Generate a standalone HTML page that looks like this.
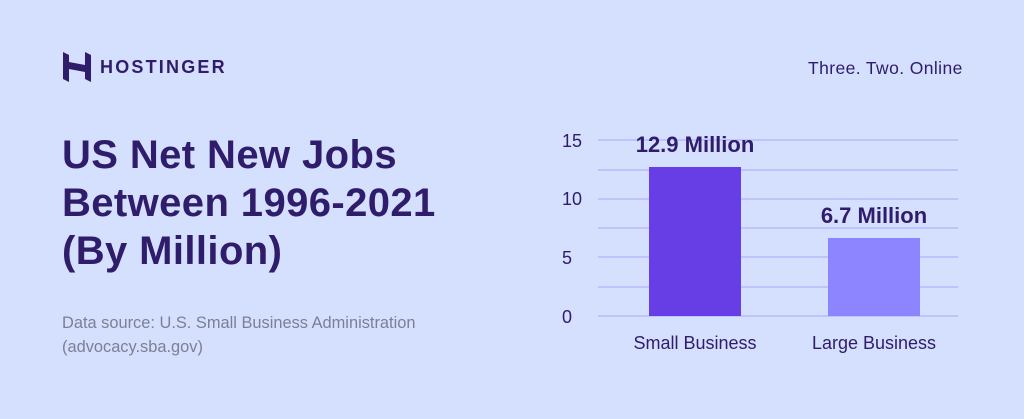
<!DOCTYPE html>
<html><head><style>
body{margin:0;width:1024px;height:419px;background:#d5dffe;font-family:"Liberation Sans",sans-serif;position:relative;overflow:hidden;color:#2f1c6a}
.a{position:absolute;white-space:nowrap}
</style></head><body>
<svg class="a" style="left:63px;top:52px" width="28" height="30" viewBox="0 0 28 30">
<path d="M0 0 L6 3 L6 11 L22 14 L22 20 L6 17 L6 30 L0 27Z M28 30 L22 27 L22 19 L6 16 L6 10 L22 13 L22 0 L28 3Z" fill="#2f1c6a"/>
</svg>
<div class="a" style="left:100px;top:57px;font-size:18px;font-weight:bold;letter-spacing:2.2px">HOSTINGER</div>
<div class="a" style="left:808px;top:58px;font-size:17.5px;letter-spacing:0.4px">Three. Two. Online</div>
<div class="a" style="left:62px;top:131px;font-size:40px;font-weight:bold;line-height:48px;letter-spacing:0.4px">US Net New Jobs<br>Between 1996-2021<br>(By Million)</div>
<div class="a" style="left:62px;top:311px;font-size:16.4px;color:#7d7f93;line-height:24px">Data source: U.S. Small Business Administration<br>(advocacy.sba.gov)</div>
<svg class="a" style="left:0;top:0" width="1024" height="419">
<g stroke="#a7a7f5" stroke-width="1">
<line x1="598" x2="958" y1="140" y2="140"/><line x1="598" x2="958" y1="170" y2="170"/>
<line x1="598" x2="958" y1="199" y2="199"/><line x1="598" x2="958" y1="228" y2="228"/>
<line x1="598" x2="958" y1="257" y2="257"/><line x1="598" x2="958" y1="287" y2="287"/>
<line x1="598" x2="958" y1="316" y2="316"/></g>
<rect x="649" y="167" width="92" height="149" fill="#673de6"/>
<rect x="828" y="238" width="92" height="78" fill="#8c85ff"/>
<g font-size="18" fill="#2f1c6a" font-family="Liberation Sans">
<text x="562" y="147">15</text><text x="562" y="205">10</text><text x="562" y="264">5</text><text x="562" y="323">0</text>
<text x="695" y="349" text-anchor="middle">Small Business</text><text x="874" y="349" text-anchor="middle">Large Business</text>
</g>
<g font-size="22" font-weight="bold" fill="#2f1c6a" font-family="Liberation Sans" text-anchor="middle">
<text x="695" y="152">12.9 Million</text><text x="874" y="223">6.7 Million</text></g>
</svg>
</body></html>
